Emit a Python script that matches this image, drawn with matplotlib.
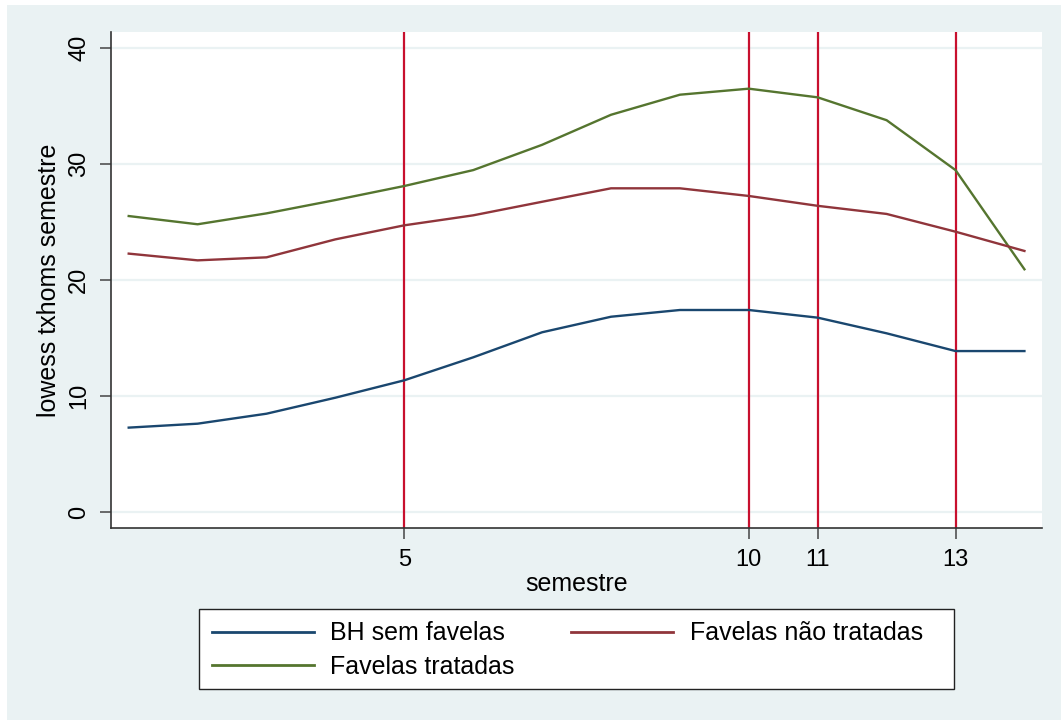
import numpy as np
import matplotlib
matplotlib.use("Agg")
import matplotlib.pyplot as plt
from matplotlib.patches import Rectangle

plt.rcParams['font.family'] = ['Liberation Sans', 'DejaVu Sans']

# lowess-smoothed homicide rates by semester
semestre = [1, 2, 3, 4, 5, 6, 7, 8, 9, 10, 11, 12, 13, 14]
bh_sem_favelas = [7.3, 7.64, 8.5, 9.88, 11.38, 13.36, 15.52, 16.86, 17.44, 17.44, 16.78, 15.43, 13.9, 13.9]
favelas_nao_tratadas = [22.3, 21.72, 21.98, 23.53, 24.74, 25.6, 26.77, 27.93, 27.93, 27.27, 26.42, 25.72, 24.19, 22.53]
favelas_tratadas = [25.54, 24.83, 25.77, 26.92, 28.13, 29.5, 31.68, 34.27, 36.0, 36.52, 35.77, 33.8, 29.5, 20.95]
# intervention semesters
eventos = [5, 10, 11, 13]
yticks = [0, 10, 20, 30, 40]

bg = "#eaf2f3"
navy = "#1a476f"
maroon = "#90353b"
green = "#55752f"
red = "#c8102e"

W, H = 1061, 720
fig = plt.figure(figsize=(10.61, 7.2), dpi=100)
fig.patch.set_facecolor(bg)
# white page margins around the stata graph
fig.patches.append(Rectangle((0, 0), 7 / W, 1, transform=fig.transFigure,
                             facecolor="white", edgecolor="none"))
fig.patches.append(Rectangle((0, 1 - 5 / H), 1, 5 / H, transform=fig.transFigure,
                             facecolor="white", edgecolor="none"))

ax = fig.add_axes([111 / W, 1 - 528 / H, (1042 - 111) / W, (528 - 32) / H])
ax.set_facecolor("white")

for y in yticks:
    ax.axhline(y, color=bg, lw=1.6, zorder=1)
for x in eventos:
    ax.axvline(x, color=red, lw=1.6, zorder=2)

ax.plot(semestre, bh_sem_favelas, color=navy, lw=1.7, label="BH sem favelas", zorder=3)
ax.plot(semestre, favelas_tratadas, color=green, lw=1.7, label="Favelas tratadas", zorder=3)
ax.plot(semestre, favelas_nao_tratadas, color=maroon, lw=1.7, label="Favelas não tratadas", zorder=3)

ax.set_xlim(0.743, 14.255)
ax.set_ylim(-1.353, 41.405)
ax.set_xticks(eventos)
ax.set_yticks(yticks)

for s in ["top", "right"]:
    ax.spines[s].set_visible(False)
for s in ["left", "bottom"]:
    ax.spines[s].set_color("#333333")
    ax.spines[s].set_linewidth(1.2)

ax.tick_params(axis="both", direction="out", length=8, width=1.1, color="#444444",
               labelcolor="black", pad=7)
ax.tick_params(axis="x", labelsize=17)
ax.tick_params(axis="y", labelsize=17)
for lab in ax.get_yticklabels():
    lab.set_rotation(90)
    lab.set_va("center")

ax.set_xlabel("semestre", fontsize=18, labelpad=1)
ax.set_ylabel("lowess txhoms semestre", fontsize=18, labelpad=5)

# legend box as in the stata graph
fig.patches.append(Rectangle((199 / W, 1 - 689 / H), (954 - 199) / W, 80 / H,
                             transform=fig.transFigure, facecolor="white",
                             edgecolor="#222222", linewidth=1.0))
leg = fig.legend(loc="upper left", bbox_to_anchor=(199 / W, 1 - 609 / H), ncol=2,
                 fontsize=18, frameon=False, handlelength=4.1,
                 handletextpad=0.65, columnspacing=2.25, labelspacing=0.38,
                 borderpad=0.5, borderaxespad=0)
for line in leg.get_lines():
    line.set_linewidth(2.0)

fig.savefig("out.png", dpi=100, facecolor=fig.get_facecolor())
